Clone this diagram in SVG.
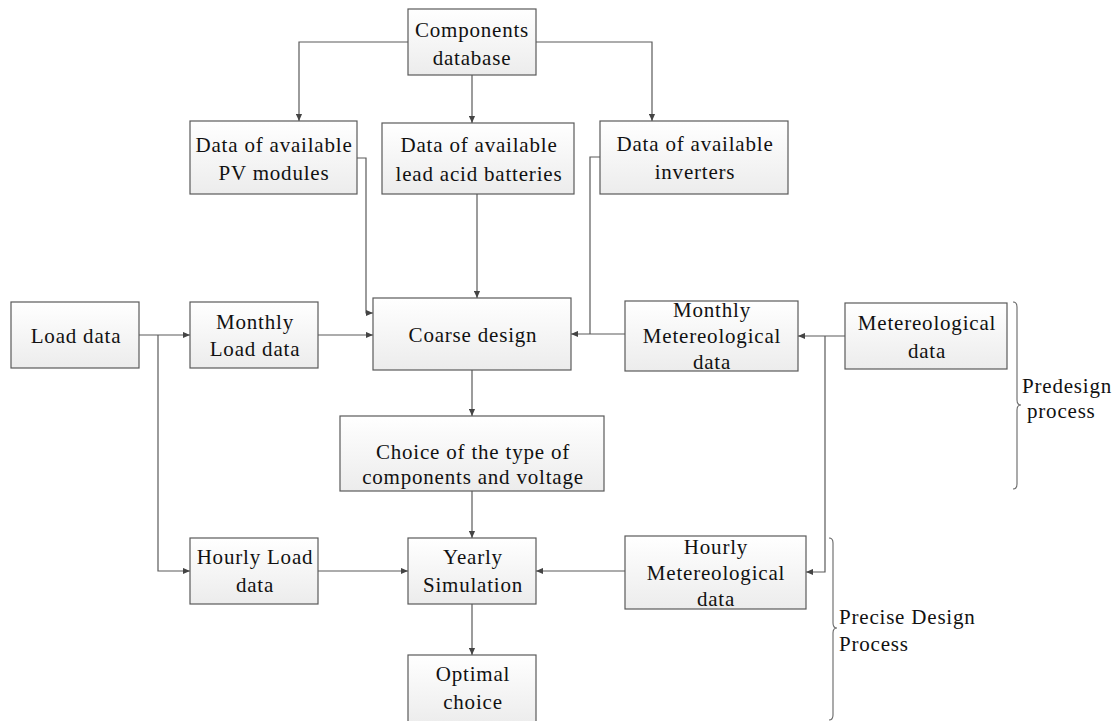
<svg xmlns="http://www.w3.org/2000/svg" width="1117" height="721" viewBox="0 0 1117 721">
<style>
.box{fill:url(#g);stroke:#5a5a5a;stroke-width:1.2}
.t{font-family:"Liberation Serif","Times New Roman",serif;font-size:21px;letter-spacing:0.8px;fill:#111;text-anchor:middle}
.l{font-family:"Liberation Serif","Times New Roman",serif;font-size:21px;letter-spacing:0.8px;fill:#111}
.c{fill:none;stroke:#5a5a5a;stroke-width:1.2}
.br{fill:none;stroke:#666;stroke-width:1.1}
</style>
<defs>
<linearGradient id="g" x1="0" y1="0" x2="0" y2="1">
<stop offset="0" stop-color="#ffffff"/>
<stop offset="1" stop-color="#ececec"/>
</linearGradient>
<marker id="a" viewBox="0 0 8 8" refX="8" refY="4" markerWidth="7" markerHeight="7" markerUnits="userSpaceOnUse" orient="auto">
<path d="M0,0.5 L8,4 L0,7.5 Z" fill="#444"/>
</marker>
</defs>
<rect width="1117" height="721" fill="#fff"/>
<g id="connectors">
<path class="c" d="M408,42 H299 V121" marker-end="url(#a)"/>
<path class="c" d="M472,75 V123" marker-end="url(#a)"/>
<path class="c" d="M536,42 H652 V121" marker-end="url(#a)"/>
<path class="c" d="M357,158 H366 V313 H373" marker-end="url(#a)"/>
<path class="c" d="M477,194 V298" marker-end="url(#a)"/>
<path class="c" d="M600,157 H590 V334"/>
<path class="c" d="M625,334 H571" marker-end="url(#a)"/>
<path class="c" d="M139,335 H190" marker-end="url(#a)"/>
<path class="c" d="M158,335 V571 H190" marker-end="url(#a)"/>
<path class="c" d="M318,335 H373" marker-end="url(#a)"/>
<path class="c" d="M472,370 V416" marker-end="url(#a)"/>
<path class="c" d="M845,336 H798" marker-end="url(#a)"/>
<path class="c" d="M825,336 V572 H806" marker-end="url(#a)"/>
<path class="c" d="M472,491 V538" marker-end="url(#a)"/>
<path class="c" d="M318,571 H408" marker-end="url(#a)"/>
<path class="c" d="M625,571 H536" marker-end="url(#a)"/>
<path class="c" d="M472,604 V655" marker-end="url(#a)"/>
</g>
<g id="components-database"><rect class="box" x="408" y="9" width="128" height="66"/><text class="t" x="472" y="37">Components</text><text class="t" x="472" y="65">database</text></g>
<g id="pv-modules"><rect class="box" x="190" y="121" width="167" height="73"/><text class="t" x="274" y="152">Data of available</text><text class="t" x="274" y="180">PV modules</text></g>
<g id="batteries"><rect class="box" x="382" y="123" width="192" height="71"/><text class="t" x="479" y="152">Data of available</text><text class="t" x="479" y="181">lead acid batteries</text></g>
<g id="inverters"><rect class="box" x="600" y="121" width="188" height="73"/><text class="t" x="695" y="151">Data of available</text><text class="t" x="695" y="179">inverters</text></g>
<g id="load-data"><rect class="box" x="11" y="302" width="128" height="66"/><text class="t" x="76" y="343">Load data</text></g>
<g id="monthly-load"><rect class="box" x="190" y="302" width="128" height="66"/><text class="t" x="255" y="329">Monthly</text><text class="t" x="255" y="356">Load data</text></g>
<g id="coarse-design"><rect class="box" x="373" y="298" width="198" height="72"/><text class="t" x="473" y="342">Coarse design</text></g>
<g id="monthly-meteo"><rect class="box" x="625" y="301" width="173" height="70"/><text class="t" x="712" y="317">Monthly</text><text class="t" x="712" y="343">Metereological</text><text class="t" x="712" y="369">data</text></g>
<g id="meteo-data"><rect class="box" x="845" y="303" width="162" height="66"/><text class="t" x="927" y="330">Metereological</text><text class="t" x="927" y="358">data</text></g>
<g id="choice"><rect class="box" x="340" y="416" width="264" height="75"/><text class="t" x="473" y="459">Choice of the type of</text><text class="t" x="473" y="484">components and voltage</text></g>
<g id="hourly-load"><rect class="box" x="190" y="538" width="128" height="66"/><text class="t" x="255" y="564">Hourly Load</text><text class="t" x="255" y="592">data</text></g>
<g id="yearly-simulation"><rect class="box" x="408" y="538" width="128" height="66"/><text class="t" x="473" y="564">Yearly</text><text class="t" x="473" y="592">Simulation</text></g>
<g id="hourly-meteo"><rect class="box" x="625" y="536" width="181" height="73"/><text class="t" x="716" y="554">Hourly</text><text class="t" x="716" y="580">Metereological</text><text class="t" x="716" y="606">data</text></g>
<g id="optimal-choice"><rect class="box" x="408" y="655" width="128" height="70"/><text class="t" x="473" y="681">Optimal</text><text class="t" x="473" y="709">choice</text></g>
<g id="predesign">
<path class="br" d="M1013,302 Q1017,302 1017,307 V400 Q1017,405 1021,405 Q1017,405 1017,410 V484 Q1017,489 1013,489"/>
<text class="l" x="1022" y="393">Predesign</text><text class="l" x="1027" y="418">process</text>
</g>
<g id="precise-design">
<path class="br" d="M829,538 Q833,538 833,543 V623 Q833,628 837,628 Q833,628 833,633 V715 Q833,720 829,720"/>
<text class="l" x="839" y="624">Precise Design</text><text class="l" x="839" y="651">Process</text>
</g>
</svg>
